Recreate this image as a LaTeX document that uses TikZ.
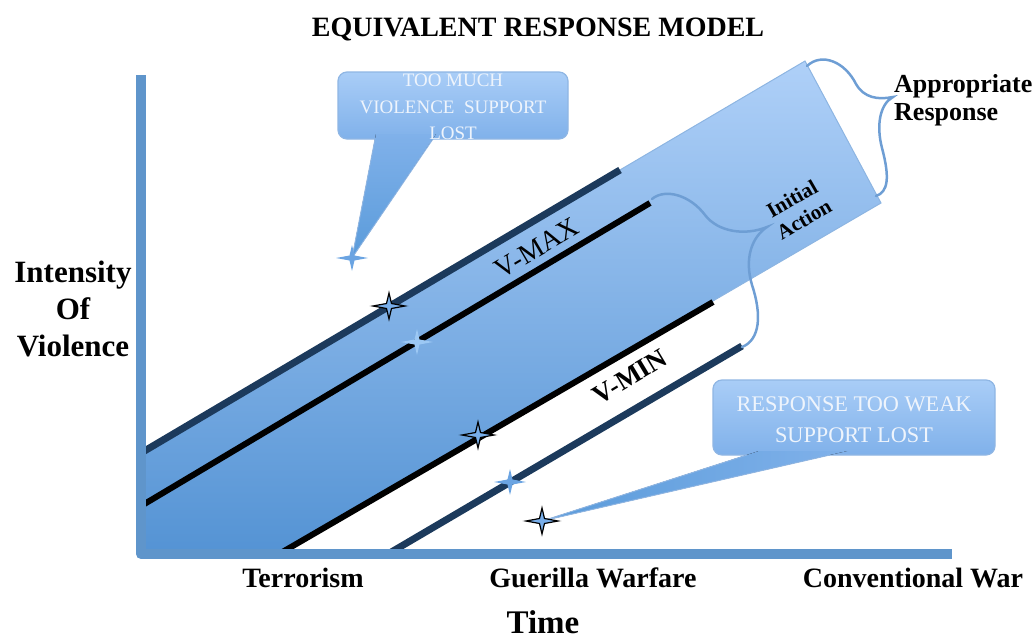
\documentclass[tikz,border=0pt]{standalone}
\usepackage{fontspec}
\setmainfont{Liberation Serif}
\definecolor{axisblue}{HTML}{5F95CB}
\definecolor{bandlight}{HTML}{AFD0F8}
\definecolor{banddark}{HTML}{5493D4}
\definecolor{bandedge}{HTML}{8DB5E2}
\definecolor{navy}{HTML}{1C3A5C}
\definecolor{bracecol}{HTML}{6E9ED4}
\definecolor{calltop}{HTML}{A9CDF7}
\definecolor{callbot}{HTML}{80B1EA}
\definecolor{callborder}{HTML}{8FB6E4}
\definecolor{calltext}{HTML}{EEF4FC}
\definecolor{tailtip}{HTML}{5A9BDA}
\definecolor{starfill}{HTML}{78AEEA}
\definecolor{starlight}{HTML}{6BA4E2}
\definecolor{starpale}{HTML}{9CC8F4}
\begin{document}
\begin{tikzpicture}[x=1pt,y=-1pt,
  navyline/.style={draw=navy,line width=7},
  blackline/.style={draw=black,line width=6},
  bracepath/.style={draw=bracecol,line width=2.5,line cap=round},
  callbox/.style={draw=callborder,line width=1.2,rounded corners=9,top color=calltop,bottom color=callbot},
  tailedge/.style={draw=callborder,line width=0.9,line join=round},
  lbl/.style={font=\bfseries\fontsize{28}{30}\selectfont,inner sep=0},
  calltxt/.style={text=calltext,inner sep=0,align=center},
  fourstar/.pic={\path[pic actions] (-16,0) -- (-2.5,-2.5) -- (0,-13) -- (2.5,-2.5) -- (16,0) -- (2.5,2.5) -- (0,13) -- (-2.5,2.5) -- cycle;}
]
\useasboundingbox (0,0) rectangle (1034,640);

% star positions
\coordinate (s1) at (352,258);
\coordinate (s2) at (389,306);
\coordinate (s3) at (417,342);
\coordinate (s4) at (478,435);
\coordinate (s5) at (510,482);
\coordinate (s6) at (542,521);

% response band
\path[draw=bandedge,line width=1,top color=bandlight,bottom color=banddark]
  (141,452) -- (805,61) -- (881,203) -- (279,554) -- (141,554) -- cycle;

% lines
\draw[navyline] (141,453) -- (620,170);
\draw[blackline] (141,506) -- (650,203);
\draw[blackline] (279,554) -- (713,302);
\draw[navyline] (388,554) -- (742,346);

% line labels
\node[rotate=30.5,inner sep=0,font=\fontsize{28}{28}\selectfont] (vmax) at (537,248) {V-MAX};
\node[rotate=31,inner sep=0,font=\bfseries\fontsize{27}{27}\selectfont] (vmin) at (630,377) {V-MIN};

% braces
\coordinate (b1a) at (807,66);
\coordinate (b1c) at (893,97);
\coordinate (b1b) at (876,196);
\draw[bracepath] (b1a) .. controls (822,52) and (845,62) .. (856,84) .. controls (864,98) and (878,100) .. (b1c)
  .. controls (880,104) and (876,125) .. (882,148) .. controls (890,178) and (888,192) .. (b1b);
\coordinate (b2a) at (652,199);
\coordinate (b2c) at (767,227);
\coordinate (b2b) at (742,347);
\draw[bracepath] (b2a) .. controls (665,188) and (690,195) .. (705,215) .. controls (718,232) and (745,236) .. (b2c)
  .. controls (752,237) and (744,258) .. (752,285) .. controls (762,315) and (760,340) .. (b2b);

\node[inner sep=0,anchor=north west,align=left,font=\bfseries\fontsize{26}{28}\selectfont] (appr) at (894,74) {Appropriate\\Response};
\node[inner sep=0,rotate=30,align=center,font=\bfseries\fontsize{21}{24}\selectfont] (init) at (798,209) {Initial\\Action};

% upper callout
\path[callbox] (338,72) rectangle (568,139);
\fill[top color=callbot,bottom color=tailtip] (376,134) -- (436,134) -- (s1) -- cycle;
\draw[tailedge] (375,139) -- (s1) -- (433,139);
\node[calltxt,anchor=north,font=\fontsize{19}{26.5}\selectfont] (c1) at (453,74) {TOO MUCH\\VIOLENCE\ \ SUPPORT\\LOST};

% lower callout
\path[callbox] (713,380) rectangle (995,455);
\fill[left color=tailtip,right color=callbot] (759,451) -- (847,451) -- (s6) -- cycle;
\draw[tailedge] (747,455) -- (s6) -- (830,455);
\node[calltxt,anchor=north,font=\fontsize{22.3}{31}\selectfont] (c2) at (854,397) {RESPONSE TOO WEAK\\SUPPORT LOST};

% stars
\pic[fill=starlight] at (s1) {fourstar};
\pic[draw=black,line width=1.2,fill=starfill] at (s2) {fourstar};
\pic[fill=starpale] at (s3) {fourstar};
\pic[draw=black,line width=1.2,fill=starfill] at (s4) {fourstar};
\pic[fill=starlight] at (s5) {fourstar};
\pic[draw=black,line width=1.2,fill=starfill] at (s6) {fourstar};

% axes
\draw[axisblue,line width=10,line join=round] (141,75) -- (141,554) -- (952,554);

% labels
\node[lbl,anchor=base] (title) at (538,36) {EQUIVALENT RESPONSE MODEL};
\node[inner sep=0,align=center,font=\bfseries\fontsize{31}{37}\selectfont] (ylab) at (73,309) {Intensity\\Of\\Violence};
\node[lbl,anchor=base] (terr) at (303,587) {Terrorism};
\node[lbl,anchor=base] (guer) at (593,587) {Guerilla Warfare};
\node[lbl,anchor=base] (conv) at (913,587) {Conventional War};
\node[inner sep=0,anchor=base,font=\bfseries\fontsize{33}{33}\selectfont] (time) at (543,633) {Time};
\end{tikzpicture}
\end{document}
